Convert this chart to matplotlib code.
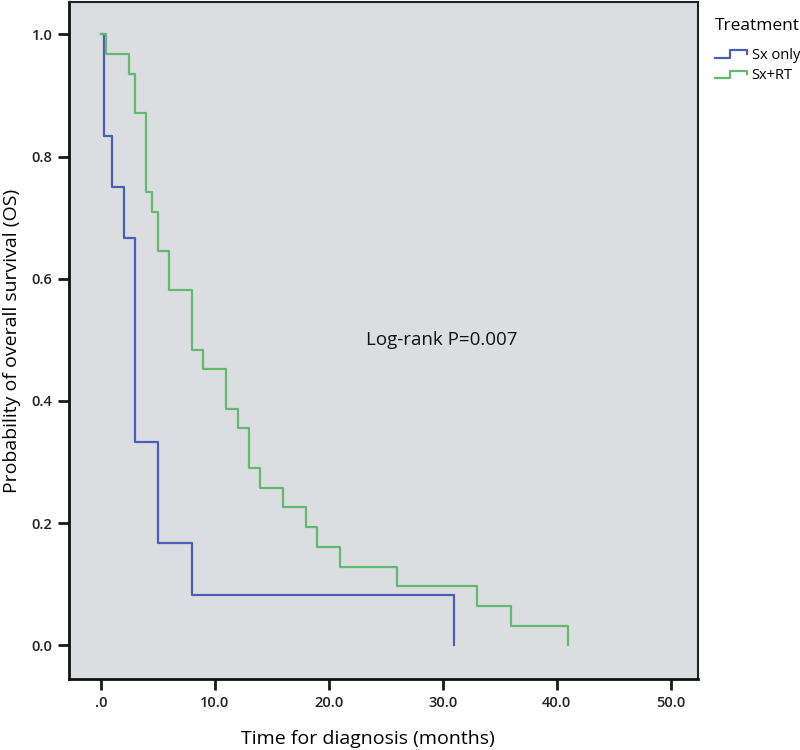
import matplotlib
matplotlib.use("Agg")
import matplotlib.pyplot as plt
from matplotlib.lines import Line2D
from matplotlib.legend_handler import HandlerBase

# ---- data ----
blue_t = [0, 0.3, 1, 2, 3, 5, 8, 31]
blue_s = [1.0, 0.833, 0.750, 0.667, 0.333, 0.167, 0.083, 0.0]
green_t = [0, 0.5, 2.5, 3, 4, 4.5, 5, 6, 8, 9, 11, 12, 13, 14, 16, 18, 19, 21, 26, 33, 36, 41]
green_s = [1.0, 0.968, 0.935, 0.871, 0.742, 0.710, 0.645, 0.581, 0.484, 0.452, 0.387,
           0.355, 0.290, 0.258, 0.226, 0.194, 0.161, 0.129, 0.097, 0.065, 0.032, 0.0]
group_labels = ["Sx only", "Sx+RT"]
x_ticks = [0, 10, 20, 30, 40, 50]
x_ticklabels = [".0", "10.0", "20.0", "30.0", "40.0", "50.0"]
y_ticks = [0.0, 0.2, 0.4, 0.6, 0.8, 1.0]
y_ticklabels = ["0.0", "0.2", "0.4", "0.6", "0.8", "1.0"]

BLUE = "#4a60b8"
GREEN = "#62ba70"
BG = "#dcdde0"

plt.rcParams['font.family'] = ['Open Sans', 'DejaVu Sans']

fig = plt.figure(figsize=(8, 7.5), dpi=100)
ax = fig.add_axes([69.3 / 800, 71 / 750, (698 - 69.3) / 800, (748 - 71) / 750])
ax.set_facecolor(BG)

ax.step(blue_t, blue_s, where='post', color=BLUE, lw=1.6, label=group_labels[0])
ax.step(green_t, green_s, where='post', color=GREEN, lw=1.6, label=group_labels[1])

ax.set_xlim(-2.76, 52.4)
ax.set_ylim(-0.055, 1.053)
ax.set_xticks(x_ticks)
ax.set_xticklabels(x_ticklabels)
ax.set_yticks(y_ticks)
ax.set_yticklabels(y_ticklabels)
ax.tick_params(axis='both', direction='out', length=8, width=2, labelsize=10.5,
               color='#1a1a1a', pad=4)
for lab in ax.get_xticklabels() + ax.get_yticklabels():
    lab.set_fontweight('semibold')
    lab.set_color('#222222')

for side in ['left', 'bottom']:
    ax.spines[side].set_linewidth(2)
    ax.spines[side].set_color('#111111')
for side in ['top', 'right']:
    ax.spines[side].set_linewidth(1.5)
    ax.spines[side].set_color('#222222')

ax.set_xlabel("Time for diagnosis (months)", fontsize=14, labelpad=14)
ax.xaxis.set_label_coords(0.475, -0.075)
ax.set_ylabel("Probability of overall survival (OS)", fontsize=14, labelpad=8)

ax.text(36.6, 0.50, "Log-rank P=0.007", fontsize=13.5, ha='right', va='center',
        color='#111111')


class StepHandler(HandlerBase):
    def create_artists(self, legend, orig_handle, xdescent, ydescent, width, height,
                       fontsize, trans):
        x0, x1 = -xdescent, -xdescent + width
        y0, y1 = -ydescent + 0.15 * height, -ydescent + 0.85 * height
        xm = x0 + 0.45 * width
        line = Line2D([x0, xm, xm, x1, x1], [y0, y0, y1, y1, y0 + 0.45 * (y1 - y0)],
                      color=orig_handle.get_color(), lw=1.6)
        line.set_transform(trans)
        return [line]


handles, labels = ax.get_legend_handles_labels()
leg = fig.legend(handles, labels, title="Treatment", loc='upper left',
                 bbox_to_anchor=(705 / 800, 1 - 8 / 750), frameon=False,
                 fontsize=10.5, title_fontsize=12.5,
                 handler_map={h: StepHandler() for h in handles},
                 handlelength=2.2, handletextpad=0.3, labelspacing=0.35,
                 borderpad=0.2)
leg._legend_box.align = "left"
leg._legend_box.sep = 10

fig.savefig("out.png", dpi=100, facecolor='white')
